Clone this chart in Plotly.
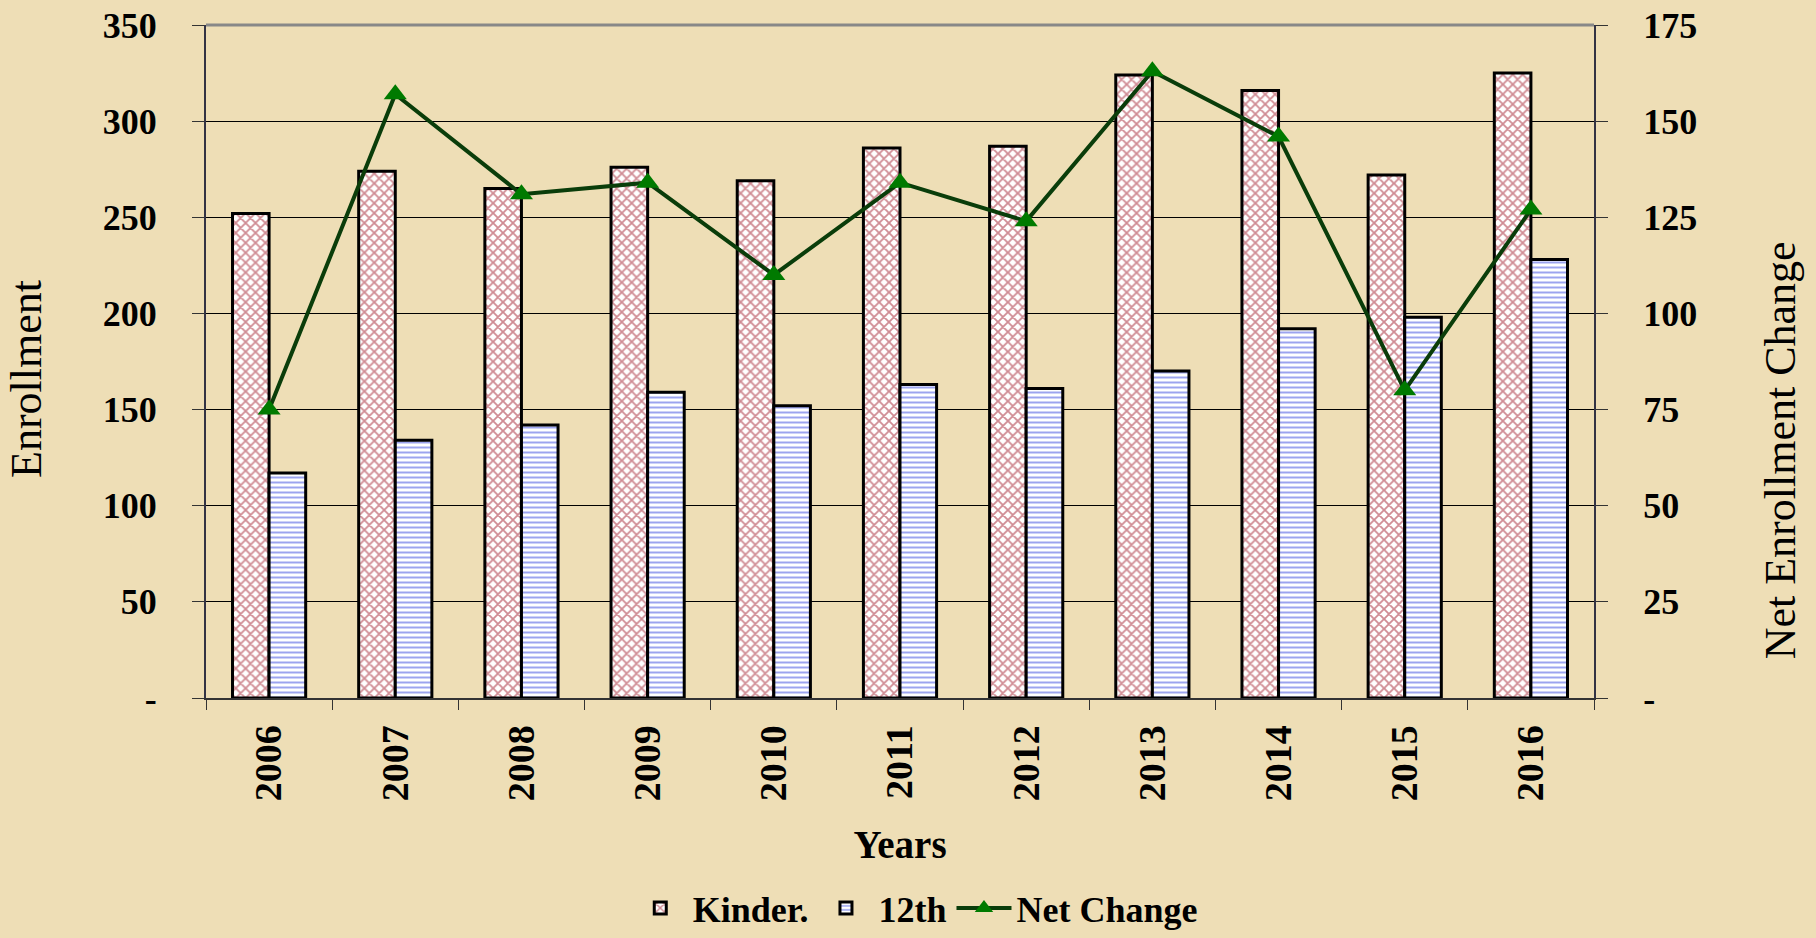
import plotly.graph_objects as go

years = ["2006", "2007", "2008", "2009", "2010", "2011", "2012", "2013", "2014", "2015", "2016"]
kinder = [252, 274, 265, 276, 269, 286, 287, 324, 316, 272, 325]
twelfth = [117, 134, 142, 159, 152, 163, 161, 170, 192, 198, 228]
net_change = [75, 157, 131, 134, 110, 134, 124, 163, 146, 80, 127]

y1_ticks = [0, 50, 100, 150, 200, 250, 300, 350]
y1_labels = ["-", "50", "100", "150", "200", "250", "300", "350"]
y2_ticks = [0, 25, 50, 75, 100, 125, 150, 175]
y2_labels = ["-", "25", "50", "75", "100", "125", "150", "175"]

FONT = "Liberation Serif"
bg = "#EEDEB6"

fig = go.Figure()
fig.add_trace(go.Bar(
    x=years, y=kinder, name="<b>Kinder.</b>",
    marker=dict(color="white", line=dict(color="black", width=3),
                pattern=dict(shape="x", fgcolor="#A01828", bgcolor="white", size=7, solidity=0.45)),
))
fig.add_trace(go.Bar(
    x=years, y=twelfth, name="<b>12th</b>",
    marker=dict(color="white", line=dict(color="black", width=3),
                pattern=dict(shape="-", fgcolor="#3A4AE0", bgcolor="white", size=5, solidity=0.4)),
))
fig.add_trace(go.Scatter(
    x=years, y=net_change, name="<b>Net Change</b>", yaxis="y2",
    mode="lines+markers",
    line=dict(color="#0A3D0A", width=4),
    marker=dict(symbol="triangle-up", size=20, color="#007A00"),
))

fig.update_layout(
    width=1816, height=938,
    paper_bgcolor=bg, plot_bgcolor=bg,
    margin=dict(l=206, r=222, t=25, b=240, autoexpand=False),
    barmode="group", bargap=0.42, bargroupgap=0,
    font=dict(family=FONT, size=36, color="black"),
    xaxis=dict(
        type="category", range=[-0.5, 10.5], automargin=False,
        title=dict(text="<b>Years</b>", font=dict(size=39), standoff=30),
        tickangle=-90, tickfont=dict(size=38),
        ticklabelstandoff=10,
        showline=True, linecolor="#333333", linewidth=2,
        ticks="outside", ticklen=10, tickcolor="#333333", tickson="boundaries",
        showgrid=False,
        tickprefix="<b>", ticksuffix="</b>",
    ),
    yaxis=dict(
        automargin=False,
        range=[0, 350], tickvals=y1_ticks, ticktext=["<b>%s</b>" % t for t in y1_labels],
        showline=True, linecolor="#333344", linewidth=2,
        ticks="outside", ticklen=12, tickcolor="#333333",
        ticklabelstandoff=28,
        showgrid=True, gridcolor="black", gridwidth=1,
        zeroline=False, tickfont=dict(size=36),
    ),
    yaxis2=dict(
        automargin=False,
        overlaying="y", side="right",
        range=[0, 175], tickvals=y2_ticks, ticktext=["<b>%s</b>" % t for t in y2_labels],
        showline=True, linecolor="#333344", linewidth=2,
        ticks="outside", ticklen=12, tickcolor="#333333",
        ticklabelstandoff=28,
        showgrid=False, zeroline=False, tickfont=dict(size=36),
    ),
    legend=dict(
        orientation="h", x=0.511, xanchor="center", y=-0.312, yanchor="middle",
        font=dict(size=36), bgcolor="rgba(0,0,0,0)",
        itemwidth=55, tracegroupgap=0,
    ),
)
fig.add_annotation(text="Enrollment", xref="paper", yref="paper", x=-0.129, y=0.474,
                   xanchor="center", yanchor="middle", textangle=-90, showarrow=False,
                   font=dict(size=44, family=FONT))
fig.add_annotation(text="Net Enrollment Change", xref="paper", yref="paper", x=1.134, y=0.368,
                   xanchor="center", yanchor="middle", textangle=-90, showarrow=False,
                   font=dict(size=44, family=FONT))
fig.add_shape(type="line", xref="paper", yref="paper", x0=0, x1=1, y0=1, y1=1,
              line=dict(color="#888888", width=3))

fig.write_html("out.html", post_script="document.body.style.margin='0';",
               config={"displayModeBar": False})
